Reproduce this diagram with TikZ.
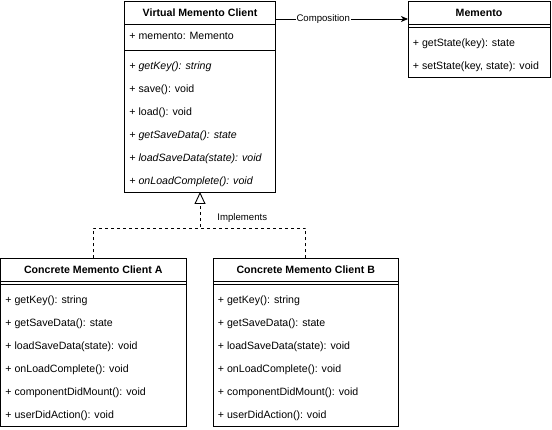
\documentclass[tikz,border=0pt]{standalone}
\usepackage{fontspec}
\setmainfont{Liberation Sans}
\usetikzlibrary{arrows.meta,positioning}

\tikzset{
	box/.style={draw, inner sep=0pt, outer sep=0pt},
	classhead/.style={box, minimum height=23pt, font=\fontsize{10.6}{12}\selectfont\bfseries},
	member/.style={anchor=west, inner sep=0pt, text height=7.6pt, text depth=0.4pt, font=\fontsize{10.6}{12}\selectfont},
	edgelabel/.style={fill=white, inner sep=1pt, font=\fontsize{9.6}{11}\selectfont},
	implline/.style={dash pattern=on 3pt off 3pt},
}

\begin{document}
\begin{tikzpicture}[x=1pt, y=-1pt, line width=0.9pt]
	\useasboundingbox (0,0) rectangle (552,430);
	% virtual client
	\node (vmc-head) [classhead, minimum width=151pt, anchor=north west] at (124.5,1) {Virtual Memento Client};
	\node (vmc-attr) [box, minimum width=151pt, minimum height=26.5pt, below=0pt of vmc-head] {};
	\node (vmc-ops) [box, minimum width=151pt, minimum height=141.5pt, below=0pt of vmc-attr] {};
	\node (vmc-a1) [member] at ([xshift=4.5pt, yshift=-11.5pt]vmc-attr.north west) {+ memento: Memento};
	\foreach \op [count=\i] in {{\itshape + getKey(): string}, + save(): void, + load(): void,
			{\itshape + getSaveData(): state}, {\itshape + loadSaveData(state): void},
			{\itshape + onLoadComplete(): void}}
		\node (vmc-m\i) [member] at ([xshift=4.5pt, yshift={-15pt-23pt*(\i-1)}]vmc-ops.north west) {\op};
	% memento
	\node (mem-head) [classhead, minimum width=142pt, anchor=north west] at (408,1) {Memento};
	\node (mem-ops) [box, minimum width=142pt, minimum height=53pt, below=0pt of mem-head] {};
	\draw ([yshift=-3pt]mem-ops.north west) -- ([yshift=-3pt]mem-ops.north east);
	\foreach \op [count=\i] in {{+ getState(key): state}, {+ setState(key, state): void}}
		\node (mem-m\i) [member] at ([xshift=4.5pt, yshift={-18.5pt-23pt*(\i-1)}]mem-ops.north west) {\op};
	% concrete clients
	\foreach \c/\x/\l in {cma/0.5/A, cmb/213/B} {
		\node (\c-head) [classhead, minimum width=185.5pt, anchor=north west] at (\x,258.5) {Concrete Memento Client \l};
		\node (\c-ops) [box, minimum width=185.5pt, minimum height=145pt, below=0pt of \c-head] {};
		\draw ([yshift=-3pt]\c-ops.north west) -- ([yshift=-3pt]\c-ops.north east);
		\foreach \op [count=\i] in {+ getKey(): string, + getSaveData(): state, + loadSaveData(state): void,
				+ onLoadComplete(): void, + componentDidMount(): void, + userDidAction(): void}
			\node (\c-m\i) [member] at ([xshift=4.5pt, yshift={-18.5pt-23pt*(\i-1)}]\c-ops.north west) {\op};
	}
	% composition
	\coordinate (comp) at ([yshift=-6.5pt]vmc-head.east);
	\draw[-{Stealth[length=7pt, width=6pt, inset=2pt]}] (comp) -- (comp -| mem-head.west)
		node (comp-label) [edgelabel, pos=0.36] {Composition};
	% implements
	\coordinate (join) at (vmc-ops.south |- 0,228.5);
	\draw[implline, -{Triangle[open, length=12pt, width=11pt]}] (cma-head.north) |- (join) -- (vmc-ops.south);
	\draw[implline] (cmb-head.north) |- (join);
	\node (impl-label) [edgelabel, anchor=west] at ([xshift=16pt, yshift=10.5pt]join) {Implements};
\end{tikzpicture}
\end{document}
